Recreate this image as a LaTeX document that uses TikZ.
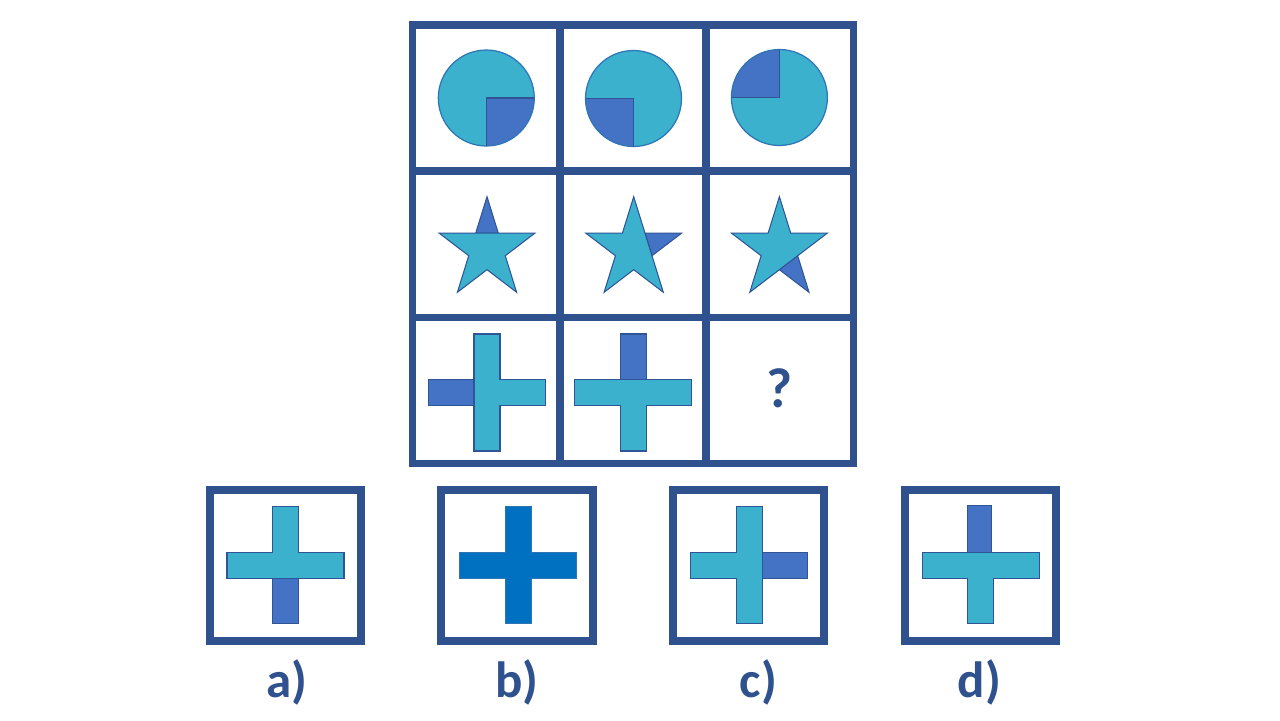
\documentclass[tikz,border=0pt]{standalone}
\usepackage{fontspec}
\setmainfont{Carlito}
\definecolor{frame}{HTML}{2F528F}
\definecolor{lightf}{HTML}{3BB1CE}
\definecolor{darkf}{HTML}{4472C4}
\definecolor{bcross}{HTML}{0070C0}
\definecolor{edge}{HTML}{2F5597}
\definecolor{cedge}{HTML}{2E75B6}
\tikzset{
  gridline/.style={draw=frame, line width=4pt},
  optbox/.style={draw=frame, line width=4.5pt},
  lightshape/.style={fill=lightf, draw=edge, line width=0.6pt, line join=miter},
  darkshape/.style={fill=darkf, draw=edge, line width=0.6pt, line join=miter},
  bshape/.style={fill=bcross, draw=cedge, line width=0.6pt},
  lbl/.style={text=frame, font=\bfseries\fontsize{29}{34}\selectfont, anchor=base, inner sep=0pt},
  qmark/.style={text=frame, font=\bfseries\fontsize{32}{38}\selectfont, anchor=base, inner sep=0pt}
}
\begin{document}
\begin{tikzpicture}[x=0.02cm, y=-0.02cm]
\useasboundingbox (0,0) rectangle (1280,720);
\fill[white] (0,0) rectangle (1280,720);

% ---------- circles (row 1) ----------
% cell 1: dark quarter bottom-right
\begin{scope}[shift={(486.3,98)}]
  \fill[lightf] (0,0) circle[radius=48];
  \begin{scope}\clip (0,0) circle[radius=48]; \fill[darkf] (0,0) rectangle (60,60); \end{scope}
  \draw[cedge, line width=0.7pt] (0,0) circle[radius=48];
  \draw[edge, line width=0.7pt] (0,48) -- (0,0) -- (48,0);
\end{scope}
% cell 2: dark quarter bottom-left
\begin{scope}[shift={(633.5,98.5)}]
  \fill[lightf] (0,0) circle[radius=48];
  \begin{scope}\clip (0,0) circle[radius=48]; \fill[darkf] (0,0) rectangle (-60,60); \end{scope}
  \draw[cedge, line width=0.7pt] (0,0) circle[radius=48];
  \draw[edge, line width=0.7pt] (0,48) -- (0,0) -- (-48,0);
\end{scope}
% cell 3: dark quarter top-left
\begin{scope}[shift={(779.4,97.5)}]
  \fill[lightf] (0,0) circle[radius=48];
  \begin{scope}\clip (0,0) circle[radius=48]; \fill[darkf] (0,0) rectangle (-60,-60); \end{scope}
  \draw[cedge, line width=0.7pt] (0,0) circle[radius=48];
  \draw[edge, line width=0.7pt] (0,-48) -- (0,0) -- (-48,0);
\end{scope}

% ---------- stars (row 2) ----------
% cell 1: top spike dark
\begin{scope}[shift={(487,249.5)}]
  \coordinate (O0) at (0,-52.8);   \coordinate (I0) at (11.29,-16.32);
  \coordinate (O1) at (47.84,-16.32); \coordinate (I1) at (18.27,6.23);
  \coordinate (O2) at (29.57,42.72); \coordinate (I2) at (0,20.17);
  \coordinate (O3) at (-29.57,42.72); \coordinate (I3) at (-18.27,6.23);
  \coordinate (O4) at (-47.84,-16.32); \coordinate (I4) at (-11.29,-16.32);
  \draw[darkshape] (I4) -- (O0) -- (I0) -- cycle;
  \draw[lightshape] (I0) -- (O1) -- (I1) -- (O2) -- (I2) -- (O3) -- (I3) -- (O4) -- (I4) -- cycle;
\end{scope}
% cell 2: upper-right spike dark
\begin{scope}[shift={(633.7,249.5)}]
  \coordinate (O0) at (0,-52.8);   \coordinate (I0) at (11.29,-16.32);
  \coordinate (O1) at (47.84,-16.32); \coordinate (I1) at (18.27,6.23);
  \coordinate (O2) at (29.57,42.72); \coordinate (I2) at (0,20.17);
  \coordinate (O3) at (-29.57,42.72); \coordinate (I3) at (-18.27,6.23);
  \coordinate (O4) at (-47.84,-16.32); \coordinate (I4) at (-11.29,-16.32);
  \draw[darkshape] (I0) -- (O1) -- (I1) -- cycle;
  \draw[lightshape] (O0) -- (I0) -- (I1) -- (O2) -- (I2) -- (O3) -- (I3) -- (O4) -- (I4) -- cycle;
\end{scope}
% cell 3: lower-right spike dark
\begin{scope}[shift={(779.4,249.5)}]
  \coordinate (O0) at (0,-52.8);   \coordinate (I0) at (11.29,-16.32);
  \coordinate (O1) at (47.84,-16.32); \coordinate (I1) at (18.27,6.23);
  \coordinate (O2) at (29.57,42.72); \coordinate (I2) at (0,20.17);
  \coordinate (O3) at (-29.57,42.72); \coordinate (I3) at (-18.27,6.23);
  \coordinate (O4) at (-47.84,-16.32); \coordinate (I4) at (-11.29,-16.32);
  \draw[darkshape] (I1) -- (O2) -- (I2) -- cycle;
  \draw[lightshape] (O0) -- (I0) -- (O1) -- (I1) -- (I2) -- (O3) -- (I3) -- (O4) -- (I4) -- cycle;
\end{scope}

% ---------- crosses (row 3) ----------
% cell 1: left arm dark
\begin{scope}[shift={(487,392.5)}]
  \draw[darkshape] (-58.5,-13) rectangle (-13,13);
  \draw[lightshape] (-13,-58.5) -- (13,-58.5) -- (13,-13) -- (58.5,-13) -- (58.5,13) -- (13,13) -- (13,58.5) -- (-13,58.5) -- cycle;
\end{scope}
% cell 2: top arm dark
\begin{scope}[shift={(633.3,392.5)}]
  \draw[darkshape] (-13,-58.5) rectangle (13,-13);
  \draw[lightshape] (-13,-13) -- (13,-13) -- (58.5,-13) -- (58.5,13) -- (13,13) -- (13,58.5) -- (-13,58.5) -- (-13,13) -- (-58.5,13) -- (-58.5,-13) -- cycle;
\end{scope}
% cell 3: question mark
\node[qmark] (q) at (779.5,407) {?};

% ---------- grid ----------
\draw[gridline] (412.5,25) rectangle (853,463.5);
\draw[gridline] (560,25) -- (560,463.5);
\draw[gridline] (706,25) -- (706,463.5);
\draw[gridline] (412.5,171) -- (853,171);
\draw[gridline] (412.5,317.5) -- (853,317.5);

% ---------- options ----------
\draw[optbox] (210,490) rectangle (360.7,640.7);
\draw[optbox] (441,490) rectangle (592.7,640.7);
\draw[optbox] (673,490) rectangle (823.7,640.7);
\draw[optbox] (905,490) rectangle (1056,640.7);

% a) bottom arm dark
\begin{scope}[shift={(285.5,565.3)}]
  \draw[darkshape] (-13,13) rectangle (13,58.5);
  \draw[lightshape] (-13,-58.5) -- (13,-58.5) -- (13,-13) -- (58.5,-13) -- (58.5,13) -- (-58.5,13) -- (-58.5,-13) -- (-13,-13) -- cycle;
\end{scope}
% b) full dark-blue cross
\begin{scope}[shift={(518.3,565.3)}]
  \draw[bshape] (-13,-58.5) -- (13,-58.5) -- (13,-13) -- (58.5,-13) -- (58.5,13) -- (13,13) -- (13,58.5) -- (-13,58.5) -- (-13,13) -- (-58.5,13) -- (-58.5,-13) -- (-13,-13) -- cycle;
\end{scope}
% c) right arm dark
\begin{scope}[shift={(749.3,565.3)}]
  \draw[darkshape] (13,-13) rectangle (58.5,13);
  \draw[lightshape] (-13,-58.5) -- (13,-58.5) -- (13,58.5) -- (-13,58.5) -- (-13,13) -- (-58.5,13) -- (-58.5,-13) -- (-13,-13) -- cycle;
\end{scope}
% d) top arm dark
\begin{scope}[shift={(980.6,565.3)}]
  \draw[darkshape] (-13,-59.5) rectangle (11,-13);
  \draw[lightshape] (-13,-13) -- (58.5,-13) -- (58.5,13) -- (13,13) -- (13,58.5) -- (-13,58.5) -- (-13,13) -- (-58.5,13) -- (-58.5,-13) -- cycle;
\end{scope}

% labels
\node[lbl] (la) at (286.7,697) {a)};
\node[lbl] (lb) at (516.7,697) {b)};
\node[lbl] (lc) at (758.3,697) {c)};
\node[lbl] (ld) at (979.3,697) {d)};
\end{tikzpicture}
\end{document}
